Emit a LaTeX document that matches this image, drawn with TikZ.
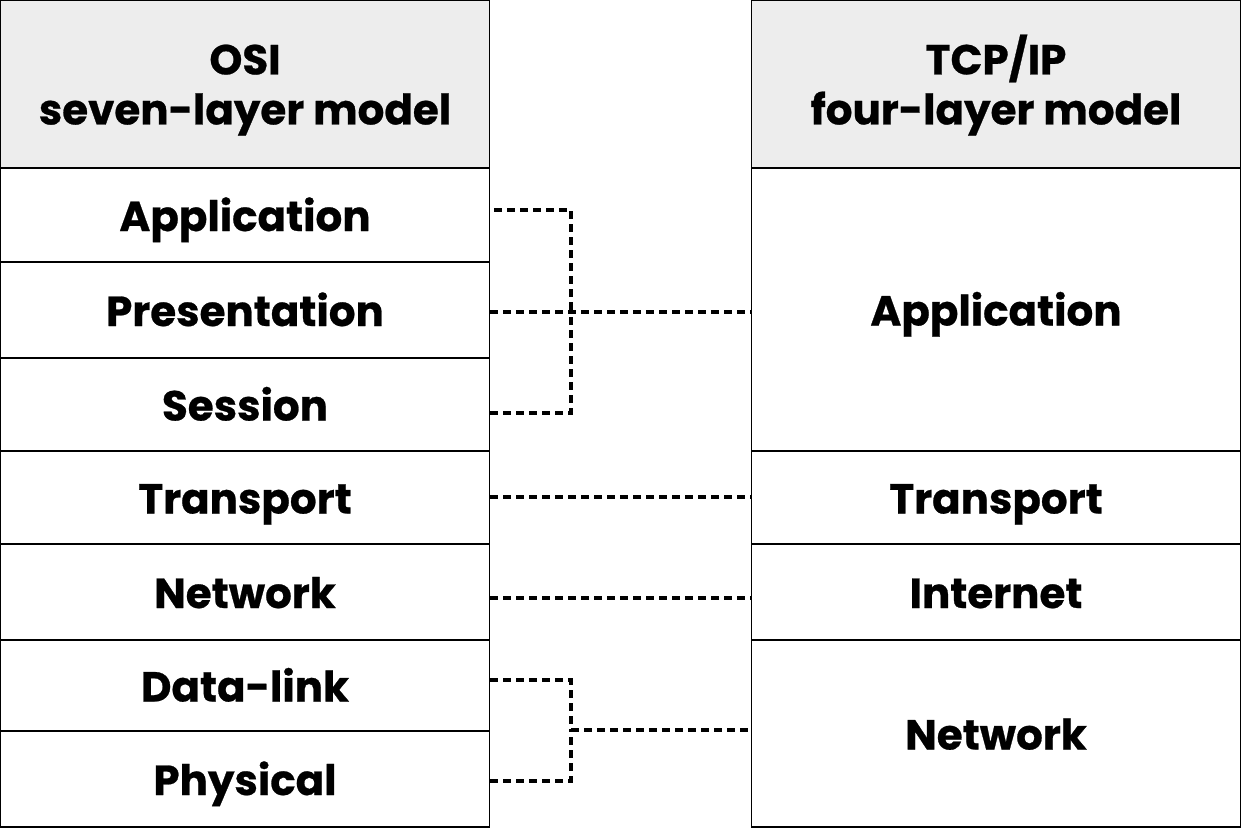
\documentclass[tikz,border=0pt]{standalone}
\usepackage{fontspec}
\setmainfont{Poppins}[BoldFeatures={FakeBold=0.6}]
\begin{document}
\begin{tikzpicture}[x=1pt,y=-1pt,
  cell/.style={draw=black,line width=1.5pt,inner sep=0pt,font=\fontsize{42}{50}\selectfont\bfseries,text height=32pt,text depth=0pt},
  head/.style={draw=black,line width=1.5pt,inner sep=0pt,font=\fontsize{42}{50}\selectfont\bfseries,align=center,fill=headgray},
  conn/.style={line width=3.2pt,dash pattern=on 8pt off 5pt},
]
\definecolor{headgray}{HTML}{EDEDED}
\useasboundingbox (0,0) rectangle (1241,829);
% left column
\def\lw{489}
\node[head,minimum width=\lw pt,minimum height=168pt] (oh) at (245,84) {\rule{0pt}{42pt}OSI\\seven-layer model};
\node[cell,minimum width=\lw pt,minimum height=94pt] (o7) at (245,215) {Application};
\node[cell,minimum width=\lw pt,minimum height=96pt] (o6) at (245,310) {Presentation};
\node[cell,minimum width=\lw pt,minimum height=93pt] (o5) at (245,404.5) {Session};
\node[cell,minimum width=\lw pt,minimum height=93pt] (o4) at (245,497.5) {Transport};
\node[cell,minimum width=\lw pt,minimum height=96pt] (o3) at (245,592) {Network};
\node[cell,minimum width=\lw pt,minimum height=91pt] (o2) at (245,685.5) {Data-link};
\node[cell,minimum width=\lw pt,minimum height=96pt] (o1) at (245,779) {Physical};
% right column
\node[head,minimum width=\lw pt,minimum height=168pt] (th) at (996,84) {\rule{0pt}{42pt}TCP/IP\\four-layer model};
\node[cell,minimum width=\lw pt,minimum height=283pt] (t4) at (996,309.5) {Application};
\node[cell,minimum width=\lw pt,minimum height=93pt] (t3) at (996,497.5) {Transport};
\node[cell,minimum width=\lw pt,minimum height=96pt] (t2) at (996,592) {Internet};
\node[cell,minimum width=\lw pt,minimum height=187pt] (t1) at (996,733.5) {Network};
% connectors
\coordinate (ja) at (571,312);
\coordinate (jb) at (571,730);
\draw[conn] ([xshift=4pt]o7.east |- {(0,210)}) -| (ja);
\draw[conn] (o5.east |- {(0,413)}) -| (ja);
\draw[conn] (o6.east |- ja) -- (t4.west |- ja);
\draw[conn] (o4.east |- {(0,497)}) -- (t3.west |- {(0,497)});
\draw[conn] (o3.east |- {(0,598)}) -- (t2.west |- {(0,598)});
\draw[conn] (o2.east |- {(0,680)}) -| (jb);
\draw[conn] (o1.east |- {(0,781)}) -| (jb);
\draw[conn] (jb) -- (t1.west |- jb);
\end{tikzpicture}
\end{document}
